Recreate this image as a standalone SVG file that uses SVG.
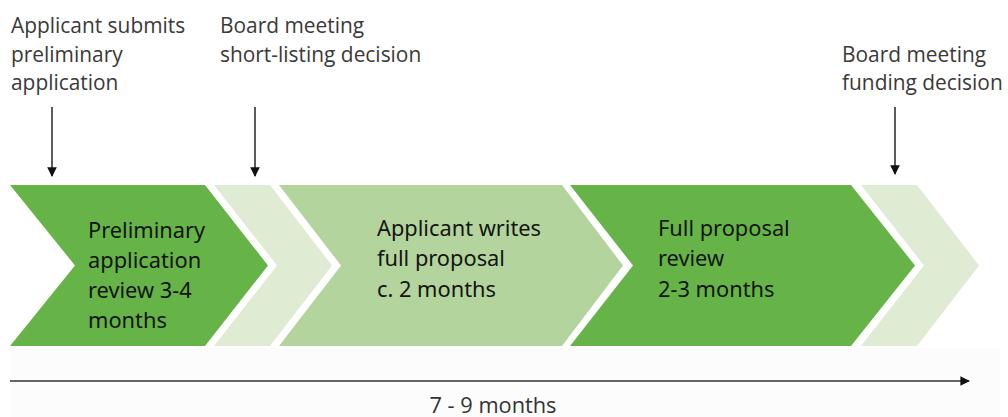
<svg xmlns="http://www.w3.org/2000/svg" width="1008" height="417" viewBox="0 0 1008 417">
<style>
.lbl{font-family:"Open Sans","Noto Sans",sans-serif;font-size:20.9px;fill:#3a3a3a}
.in{font-family:"Noto Sans","Open Sans",sans-serif;font-size:21.8px;fill:#141414}
.dark{fill:#66b447}
.light{fill:#dfebd3}
.mid{fill:#b3d49c}
.conn{stroke:#333;stroke-width:1.6;fill:none}
</style>
<defs>
<marker id="ah" viewBox="0 0 10 10" refX="9" refY="5" markerWidth="6" markerHeight="6" markerUnits="strokeWidth" orient="auto">
<path d="M0,0 L10,5 L0,10 z" fill="#111"/>
</marker>
</defs>
<rect x="0" y="0" width="1008" height="417" fill="#ffffff"/>
<rect x="10" y="348" width="990" height="69" fill="#fcfcfc"/>
<g id="stage1">
<polygon class="dark" points="10,185 205,185 268,265.5 205,346 10,346 75,265.5"/>
<text class="in" x="88" y="238">Preliminary</text>
<text class="in" x="88" y="268">application</text>
<text class="in" x="88" y="298">review 3-4</text>
<text class="in" x="88" y="328">months</text>
</g>
<g id="stage2">
<polygon class="light" points="214,185 270,185 332,265.5 270,346 214,346 277,265.5"/>
</g>
<g id="stage3">
<polygon class="mid" points="279,185 562,185 623,265.5 562,346 279,346 341,265.5"/>
<text class="in" x="377" y="236">Applicant writes</text>
<text class="in" x="377" y="266">full proposal</text>
<text class="in" x="377" y="297">c. 2 months</text>
</g>
<g id="stage4">
<polygon class="dark" points="570,185 851,185 915,265.5 851,346 570,346 633,265.5"/>
<text class="in" x="658" y="236">Full proposal</text>
<text class="in" x="658" y="266">review</text>
<text class="in" x="658" y="297">2-3 months</text>
</g>
<g id="stage5">
<polygon class="light" points="861,185 917,185 979,265.5 917,346 861,346 924,265.5"/>
</g>
<g id="event1">
<text class="lbl" x="11" y="33">Applicant submits</text>
<text class="lbl" x="11" y="62">preliminary</text>
<text class="lbl" x="11" y="90">application</text>
</g>
<g id="event2">
<text class="lbl" x="220" y="33">Board meeting</text>
<text class="lbl" x="220" y="62">short-listing decision</text>
</g>
<g id="event3">
<text class="lbl" x="842" y="62">Board meeting</text>
<text class="lbl" x="842" y="90">funding decision</text>
</g>
<g id="timeline">
<text x="493" y="413" text-anchor="middle" font-family="'Open Sans','Noto Sans',sans-serif" font-size="21" fill="#333" textLength="127" lengthAdjust="spacingAndGlyphs">7 - 9 months</text>
</g>
<g id="connectors">
<line class="conn" x1="52" y1="107" x2="52" y2="176" marker-end="url(#ah)"/>
<line class="conn" x1="255" y1="107" x2="255" y2="176" marker-end="url(#ah)"/>
<line class="conn" x1="895" y1="107" x2="895" y2="174" marker-end="url(#ah)"/>
<line class="conn" x1="10" y1="381" x2="969" y2="381" marker-end="url(#ah)"/>
</g>
</svg>
